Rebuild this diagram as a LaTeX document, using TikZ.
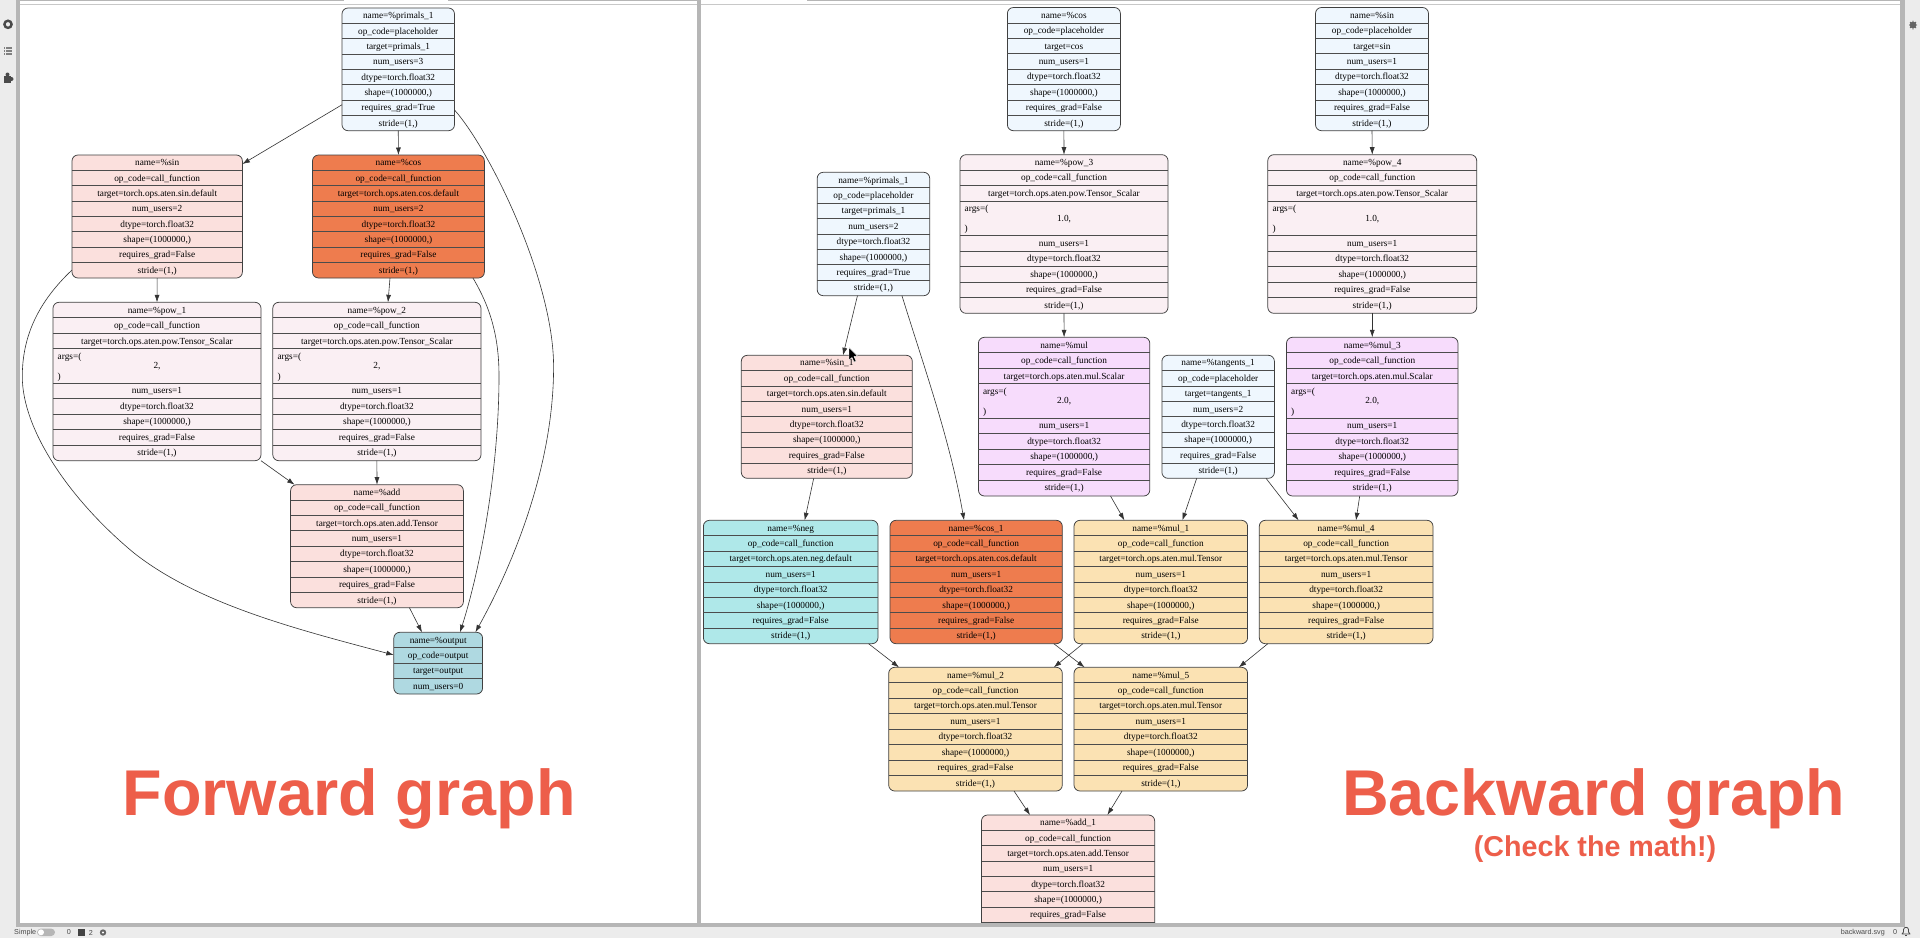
\documentclass[tikz,border=0pt]{standalone}
\usepackage{fontspec}
\setmainfont{Liberation Serif}
\newfontfamily\hdfont{Liberation Sans}
\usetikzlibrary{arrows.meta}
\definecolor{cplace}{HTML}{EFF7FE}
\definecolor{csin}{HTML}{FBE0DD}
\definecolor{ccos}{HTML}{EE7C4E}
\definecolor{cpow}{HTML}{FAEFF3}
\definecolor{cout}{HTML}{AFD9E1}
\definecolor{cmulsc}{HTML}{F7DCFC}
\definecolor{cneg}{HTML}{AFE8E9}
\definecolor{cwheat}{HTML}{FBE2B3}
\definecolor{chead}{HTML}{ED5E4A}
\definecolor{cbg}{HTML}{ECECEC}
\definecolor{cband}{HTML}{B6B6B6}
\definecolor{cline}{HTML}{C8C8C8}
\definecolor{cui}{HTML}{4A4A4A}
\tikzset{
  recbox/.style={draw=black!75,line width=0.75pt,rounded corners=6pt,inner sep=0pt,outer sep=0pt},
  rowtxt/.style={font=\fontsize{9.3}{11}\selectfont,anchor=base,inner sep=0pt,text=black},
  argtxt/.style={font=\fontsize{9.3}{11}\selectfont,anchor=base west,inner sep=0pt,text=black},
  sepline/.style={draw=black!70,line width=0.8pt},
  edge/.style={draw=black!80,line width=0.6pt,-{Latex[length=7.5pt,width=5pt]}},
  hdtxt/.style={font=\hdfont\bfseries\fontsize{64.7}{70}\selectfont,text=chead,anchor=base west,inner sep=0pt},
  subtxt/.style={font=\hdfont\bfseries\fontsize{28.7}{32}\selectfont,text=chead,anchor=base west,inner sep=0pt},
  uitxt/.style={font=\hdfont\fontsize{7.2}{8}\selectfont,text=cui,inner sep=0pt},
}
\newcounter{rc}
\newcommand\recstart[7]{%
  \node[recbox,fill=#6,minimum width={(#3-#2)*1pt},minimum height={(#5-#4)*1pt}] (#1) at ({(#2+#3)/2},{(#4+#5)/2}) {};
  \gdef\recxl{#2}\gdef\recxr{#3}\gdef\rech{#7}\gdef\reccur{#4}\gdef\recend{#5}}
\newcommand\recsep{%
  \ifdim\recyn pt<\dimexpr\recend pt-2pt\relax
    \draw[sepline] (\recxl,\recyn) -- (\recxr,\recyn);
  \fi}
\newcommand\recrows[1]{%
  \foreach \rowt in {#1}{%
    \pgfmathsetmacro\recym{\reccur+\rech/2+3}
    \pgfmathsetmacro\recyn{\reccur+\rech}
    \pgfmathsetmacro\recxm{(\recxl+\recxr)/2}
    \stepcounter{rc}
    \node[rowtxt] (t\arabic{rc}) at (\recxm,\recym) {\rowt};
    \recsep
    \xdef\reccur{\recyn}
  }}
\newcommand\recargs[1]{%
  \pgfmathsetmacro\recya{\reccur+10.3}
  \pgfmathsetmacro\recyb{\reccur+20}
  \pgfmathsetmacro\recyc{\reccur+30.7}
  \pgfmathsetmacro\recyn{\reccur+34.3}
  \pgfmathsetmacro\recxm{(\recxl+\recxr)/2}
  \pgfmathsetmacro\recxa{\recxl+4.5}
  \stepcounter{rc}\node[argtxt] (t\arabic{rc}) at (\recxa,\recya) {args=(};
  \stepcounter{rc}\node[rowtxt] (t\arabic{rc}) at (\recxm,\recyb) {#1};
  \stepcounter{rc}\node[argtxt] (t\arabic{rc}) at (\recxa,\recyc) {)};
  \recsep
  \xdef\reccur{\recyn}}
\newcommand\lnk[4]{\draw[edge] ([xshift=#2pt]#1.south) -- ([xshift=#4pt]#3.north);}
\def\dt{dtype=torch.float32}
\def\sh{shape=(1000000,)}
\def\st{stride=(1,)}
\def\cf{op\_code=call\_function}
\def\ph{op\_code=placeholder}
\def\rf{requires\_grad=False}
\def\nu{num\_users=1}
\begin{document}
\begin{tikzpicture}[x=1pt,y=-1pt]
\useasboundingbox (0,0) rectangle (1920,938);
\fill[white] (0,0) rectangle (1920,938);
% ---------- forward graph
\recstart{fp}{342}{454.5}{8}{130.7}{cplace}{15.34}
\recrows{{name=\%primals\_1},\ph,{target=primals\_1},{num\_users=3},\dt,\sh,{requires\_grad=True},\st}
\recstart{fsin}{72}{242.4}{155}{278}{csin}{15.375}
\recrows{{name=\%sin},\cf,{target=torch.ops.aten.sin.default},{num\_users=2},\dt,\sh,\rf,\st}
\recstart{fcos}{312.5}{484.4}{155}{278}{ccos}{15.375}
\recrows{{name=\%cos},\cf,{target=torch.ops.aten.cos.default},{num\_users=2},\dt,\sh,\rf,\st}
\recstart{fpow1}{53}{261}{302.3}{460.7}{cpow}{15.5}
\recrows{{name=\%pow\_1},\cf,{target=torch.ops.aten.pow.Tensor\_Scalar}}
\recargs{2,}
\recrows{\nu,\dt,\sh,\rf,\st}
\recstart{fpow2}{272.8}{481}{302.3}{460.7}{cpow}{15.5}
\recrows{{name=\%pow\_2},\cf,{target=torch.ops.aten.pow.Tensor\_Scalar}}
\recargs{2,}
\recrows{\nu,\dt,\sh,\rf,\st}
\recstart{fadd}{290.6}{463.4}{484.7}{607.7}{csin}{15.375}
\recrows{{name=\%add},\cf,{target=torch.ops.aten.add.Tensor},\nu,\dt,\sh,\rf,\st}
\recstart{fout}{393.8}{482.6}{632.3}{694}{cout}{15.42}
\recrows{{name=\%output},{op\_code=output},{target=output},{num\_users=0}}
% ---------- backward graph
\recstart{bcos}{1007.4}{1120.4}{7.5}{130.7}{cplace}{15.4}
\recrows{{name=\%cos},\ph,{target=cos},\nu,\dt,\sh,\rf,\st}
\recstart{bsin}{1315.5}{1428.5}{7.5}{130.7}{cplace}{15.4}
\recrows{{name=\%sin},\ph,{target=sin},\nu,\dt,\sh,\rf,\st}
\recstart{bp}{817.2}{929.7}{172.3}{295.7}{cplace}{15.425}
\recrows{{name=\%primals\_1},\ph,{target=primals\_1},{num\_users=2},\dt,\sh,{requires\_grad=True},\st}
\recstart{bpow3}{960}{1168}{154.7}{313.3}{cpow}{15.5}
\recrows{{name=\%pow\_3},\cf,{target=torch.ops.aten.pow.Tensor\_Scalar}}
\recargs{1.0,}
\recrows{\nu,\dt,\sh,\rf,\st}
\recstart{bpow4}{1267.8}{1476.7}{154.7}{313.3}{cpow}{15.5}
\recrows{{name=\%pow\_4},\cf,{target=torch.ops.aten.pow.Tensor\_Scalar}}
\recargs{1.0,}
\recrows{\nu,\dt,\sh,\rf,\st}
\recstart{bmul}{978.4}{1149.8}{337.3}{496}{cmulsc}{15.5}
\recrows{{name=\%mul},\cf,{target=torch.ops.aten.mul.Scalar}}
\recargs{2.0,}
\recrows{\nu,\dt,\sh,\rf,\st}
\recstart{bmul3}{1286.5}{1458}{337.3}{496}{cmulsc}{15.5}
\recrows{{name=\%mul\_3},\cf,{target=torch.ops.aten.mul.Scalar}}
\recargs{2.0,}
\recrows{\nu,\dt,\sh,\rf,\st}
\recstart{btan}{1161.9}{1274.4}{355.3}{478.3}{cplace}{15.375}
\recrows{{name=\%tangents\_1},\ph,{target=tangents\_1},{num\_users=2},\dt,\sh,\rf,\st}
\recstart{bs1}{741.3}{912.3}{355.3}{478.3}{csin}{15.375}
\recrows{{name=\%sin\_1},\cf,{target=torch.ops.aten.sin.default},\nu,\dt,\sh,\rf,\st}
\recstart{bneg}{703.4}{878}{520.3}{643.7}{cneg}{15.425}
\recrows{{name=\%neg},\cf,{target=torch.ops.aten.neg.default},\nu,\dt,\sh,\rf,\st}
\recstart{bc1}{890}{1062.3}{520.3}{643.7}{ccos}{15.425}
\recrows{{name=\%cos\_1},\cf,{target=torch.ops.aten.cos.default},\nu,\dt,\sh,\rf,\st}
\recstart{bm1}{1074}{1247.6}{520.3}{643.7}{cwheat}{15.425}
\recrows{{name=\%mul\_1},\cf,{target=torch.ops.aten.mul.Tensor},\nu,\dt,\sh,\rf,\st}
\recstart{bm4}{1259.3}{1433}{520.3}{643.7}{cwheat}{15.425}
\recrows{{name=\%mul\_4},\cf,{target=torch.ops.aten.mul.Tensor},\nu,\dt,\sh,\rf,\st}
\recstart{bm2}{888.7}{1062.3}{667.3}{791}{cwheat}{15.46}
\recrows{{name=\%mul\_2},\cf,{target=torch.ops.aten.mul.Tensor},\nu,\dt,\sh,\rf,\st}
\recstart{bm5}{1074}{1247.6}{667.3}{791}{cwheat}{15.46}
\recrows{{name=\%mul\_5},\cf,{target=torch.ops.aten.mul.Tensor},\nu,\dt,\sh,\rf,\st}
\recstart{badd}{981.5}{1154.7}{815}{930}{csin}{15.375}
\recrows{{name=\%add\_1},\cf,{target=torch.ops.aten.add.Tensor},\nu,\dt,\sh,\rf}
% ---------- forward edges
\draw[edge] ([yshift=-35.4pt]fp.west) -- ([yshift=52.5pt]fsin.east);
\lnk{fp}{0}{fcos}{0}
\draw[edge] ([yshift=-40.6pt]fp.east) .. controls (490,150) and (553.6,280) .. (553.6,366.7) .. controls (553.6,470) and (510,570) .. ([xshift=37.2pt]fout.north);
\lnk{fsin}{0}{fpow1}{0}
\lnk{fcos}{-8.45}{fpow2}{11.1}
\draw[edge] ([yshift=-53.5pt]fsin.west) .. controls (35,305) and (22.3,340) .. (22.3,376.7) .. controls (22.3,430) and (70,500) .. (134,553) .. controls (200,605) and (300,630) .. ([yshift=8.15pt]fout.west);
\draw[edge] ([xshift=74.5pt]fcos.south) .. controls (492,310) and (499,340) .. (499,376) .. controls (499,470) and (480,570) .. ([xshift=21.8pt]fout.north);
\lnk{fpow1}{104}{fadd}{-82.4}
\lnk{fpow2}{0}{fadd}{0}
\lnk{fadd}{32.4}{fout}{-16.2}
% ---------- backward edges
\lnk{bcos}{0}{bpow3}{0}
\lnk{bsin}{0}{bpow4}{0}
\lnk{bpow3}{0}{bmul}{0}
\lnk{bpow4}{0}{bmul3}{0}
\lnk{bp}{-16}{bs1}{16.2}
\draw[edge] ([xshift=28.5pt]bp.south) .. controls (925,370) and (950,440) .. ([xshift=-12.1pt]bc1.north);
\lnk{bs1}{-13.1}{bneg}{14}
\lnk{bmul}{46.4}{bm1}{-36.4}
\lnk{btan}{-21.45}{bm1}{21.6}
\lnk{btan}{47.85}{bm4}{-47.55}
\lnk{bmul3}{-12.55}{bm4}{9.85}
\lnk{bneg}{77.9}{bm2}{-76.5}
\lnk{bc1}{77.65}{bm5}{-76.2}
\lnk{bm1}{-77.9}{bm2}{78.3}
\lnk{bm4}{-78.35}{bm5}{78}
\lnk{bm2}{38.5}{badd}{-38.1}
\lnk{bm5}{-38.8}{badd}{39.3}
% ---------- mouse pointer
\filldraw[fill=black,draw=white,line width=0.4pt] (849,347.5) -- (849,360) -- (852,357.5) -- (854,362) -- (856,361) -- (854,356.5) -- (857.5,356) -- cycle;
% ---------- headings
\node[hdtxt] (hforward) at (122.5,815) {Forward graph};
\node[hdtxt] (hbackward) at (1342,815) {Backward graph};
\node[subtxt] (hcheck) at (1473.6,856.7) {(Check the math!)};
% ---------- window chrome
\fill[cbg] (0,0) rectangle (16,938);
\fill[cbg] (1905,0) rectangle (1920,938);
\fill[cbg] (0,927) rectangle (1920,938);
\fill[cband] (16,0) rectangle (20,927);
\fill[cband] (697,0) rectangle (701,927);
\fill[cband] (1900,0) rectangle (1905,927);
\fill[cband] (16,923) rectangle (1905,927);
\fill[cband] (20,0) rectangle (344,1.2);
\fill[cband] (448,0) rectangle (697,1.2);
\fill[cband] (807,0) rectangle (1900,1.2);
\fill[cline] (20,4) rectangle (697,5.3);
\fill[cline] (701,4) rectangle (1900,5.3);
% left icons
\draw[cui,line width=2.4pt] (8,24.3) circle[radius=3.6];
\draw[cui!70,line width=1.1pt] (4,48) -- (4.8,48) (6,48) -- (12,48) (4,51) -- (4.8,51) (6,51) -- (12,51) (4,54) -- (4.8,54) (6,54) -- (12,54);
\fill[cui] (4,75.5) rectangle (11,82.5);
\fill[cui] (7.5,74.5) circle[radius=2];
\fill[cui] (11.5,79) circle[radius=2];
% right icon
\fill[cui!85] (1913,25) circle[radius=3.4];
\draw[cui!85,line width=0.8pt] (1909,25) -- (1917,25) (1913,20.5) -- (1913,29.5) (1910,22) -- (1916,28) (1916,22) -- (1910,28);
% status bar
\node[uitxt,anchor=west] (usimple) at (14,932.5) {Simple};
\fill[cband,rounded corners=3.7pt] (37,928.6) rectangle (55,936);
\fill[white] (41,932.3) circle[radius=3];
\node[uitxt] (uzero) at (69,932.5) {0};
\fill[cui!90!black] (78,929) rectangle (85,936);
\node[uitxt] (utwo) at (91,932.5) {2};
\fill[cui!85] (103,932.5) circle[radius=3.2];
\fill[white] (103,932.5) circle[radius=1.1];
\node[uitxt,anchor=east] (ufile) at (1885,932.5) {backward.svg};
\node[uitxt] (uzero2) at (1895,932.5) {0};
\draw[cui,line width=0.8pt,line join=round] (1902,934) -- (1903.5,932) -- (1903.5,929.5) .. controls (1904,926.5) and (1908,926.5) .. (1908.5,929.5) -- (1908.5,932) -- (1910,934) -- cycle;
\draw[cui,line width=0.8pt] (1905,935.8) -- (1907,935.8);
\end{tikzpicture}
\end{document}
